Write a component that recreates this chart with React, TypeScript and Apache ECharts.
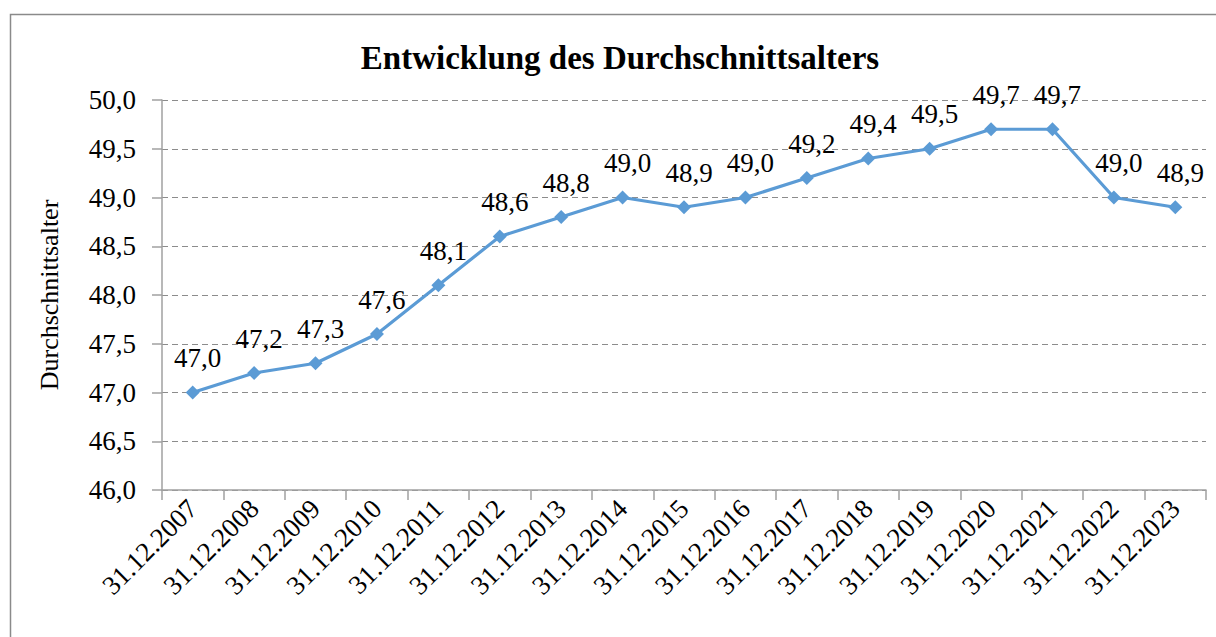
import React, { useEffect, useRef } from "react";
import * as echarts from "echarts";

const categories = [
  "31.12.2007", "31.12.2008", "31.12.2009", "31.12.2010", "31.12.2011",
  "31.12.2012", "31.12.2013", "31.12.2014", "31.12.2015", "31.12.2016",
  "31.12.2017", "31.12.2018", "31.12.2019", "31.12.2020", "31.12.2021",
  "31.12.2022", "31.12.2023",
];
const averageAge = [
  47.0, 47.2, 47.3, 47.6, 48.1, 48.6, 48.8, 49.0, 48.9, 49.0,
  49.2, 49.4, 49.5, 49.7, 49.7, 49.0, 48.9,
];
const titleText = "Entwicklung des Durchschnittsalters";
const yAxisName = "Durchschnittsalter";
const yMin = 46;
const yMax = 50;
const yStep = 0.5;

const fmt = (v: number) => v.toFixed(1).replace(".", ",");
const FONT = "Liberation Serif";

export default function App() {
  const ref = useRef<HTMLDivElement>(null);
  useEffect(() => {
    document.body.style.margin = "0";
    if (!ref.current) return;
    const chart = echarts.init(ref.current, undefined, { renderer: "svg" });
    chart.setOption({
      animation: false,
      backgroundColor: "#ffffff",
      textStyle: { fontFamily: FONT, fontSize: 27 },
      title: {
        text: titleText,
        left: 615,
        textAlign: "center",
        top: 36,
        textStyle: { fontFamily: FONT, fontWeight: "bold", fontSize: 33, color: "#000" },
      },
      graphic: [
        {
          type: "rect",
          shape: { x: 10.5, y: 14.5, width: 1240, height: 660 },
          style: { fill: "none", stroke: "#8a8a8a", lineWidth: 1.5 },
          silent: true,
        },
      ],
      grid: { left: 162, right: 10, top: 100, bottom: 147, containLabel: false },
      xAxis: {
        type: "category",
        data: categories,
        boundaryGap: true,
        axisLine: { lineStyle: { color: "#a0a0a0", width: 1.5 } },
        axisTick: { show: true, length: 10, alignWithLabel: false, lineStyle: { color: "#a0a0a0", width: 1.5 } },
        axisLabel: {
          rotate: 45,
          interval: 0,
          margin: 14,
          color: "#000",
          fontFamily: FONT,
          fontSize: 27,
        },
      },
      yAxis: {
        type: "value",
        min: yMin,
        max: yMax,
        interval: yStep,
        name: yAxisName,
        nameLocation: "middle",
        nameGap: 100,
        nameRotate: 90,
        nameTextStyle: { fontFamily: FONT, fontSize: 26, color: "#000" },
        axisLine: { show: true, lineStyle: { color: "#a0a0a0", width: 1.5 } },
        axisTick: { show: true, length: 10, lineStyle: { color: "#a0a0a0", width: 1.5 } },
        axisLabel: {
          formatter: (v: number) => fmt(v),
          margin: 26,
          color: "#000",
          fontFamily: FONT,
          fontSize: 27,
        },
        splitLine: { show: true, lineStyle: { color: "#8c8c8c", type: [6, 4], width: 1.2 } },
      },
      series: [
        {
          type: "line",
          data: averageAge,
          symbol: "diamond",
          symbolSize: 14,
          lineStyle: { color: "#5B9BD5", width: 3.2 },
          itemStyle: { color: "#5B9BD5" },
          label: {
            show: true,
            position: "top",
            distance: 14,
            offset: [5, 0],
            formatter: (p: any) => fmt(p.value),
            fontFamily: FONT,
            fontSize: 27,
            color: "#000",
          },
        },
      ],
    });
    return () => chart.dispose();
  }, []);
  return <div ref={ref} style={{ width: 1216, height: 637 }} />;
}
